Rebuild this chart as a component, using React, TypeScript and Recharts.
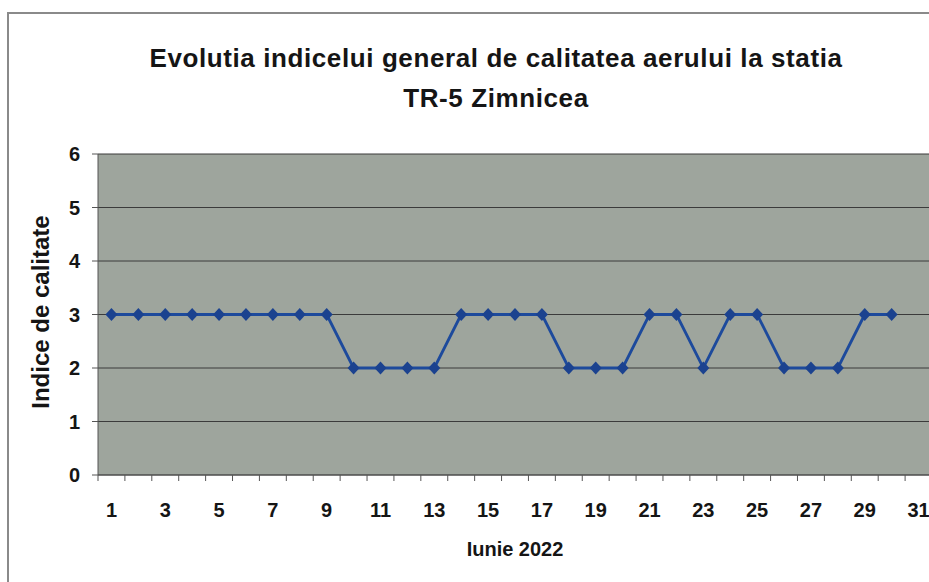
import React from 'react';
import { LineChart, Line, XAxis, YAxis, CartesianGrid } from 'recharts';

// zilele lunii (axa are 31 de pozitii, iunie are 30 de valori)
const days = Array.from({ length: 31 }, (_, i) => i + 1);
const labelDays = [1, 3, 5, 7, 9, 11, 13, 15, 17, 19, 21, 23, 25, 27, 29, 31];
const indexValues = [3, 3, 3, 3, 3, 3, 3, 3, 3, 2, 2, 2, 2, 3, 3, 3, 3, 2, 2, 2, 3, 3, 2, 3, 3, 2, 2, 2, 3, 3];
const yTicks = [0, 1, 2, 3, 4, 5, 6];

const data = indexValues.map((v, i) => ({ day: days[i], value: v }));
const boundaryTicks = [0.5, ...days.map((d) => d + 0.5)];

const FONT = '"Liberation Sans", Arial, sans-serif';

const Diamond = (props: any) => {
    const { cx, cy, index } = props;
    if (cx == null || cy == null) return <g key={`d-${index}`} />;
    return (
        <path
            key={`d-${index}`}
            d={`M${cx},${cy - 6.5} L${cx + 6},${cy} L${cx},${cy + 6.5} L${cx - 6},${cy} Z`}
            fill="#1b428f"
        />
    );
};

const App: React.FC = () => {
    return (
        <div style={{ position: 'absolute', left: 0, top: 0, width: 929, height: 582, overflow: 'hidden', background: '#fff', fontFamily: FONT }}>
            {/* chenarul graficului */}
            <div style={{ position: 'absolute', left: 7, top: 12, width: 1000, height: 700, borderLeft: '2px solid #8a8a8a', borderTop: '2px solid #8a8a8a' }} />

            <div style={{ position: 'absolute', left: 0, width: 992, top: 38, textAlign: 'center', fontWeight: 700, fontSize: 26, letterSpacing: 0.6, color: '#151515', lineHeight: '40px' }}>
                Evolutia indicelui general de calitatea aerului la statia
                <br />
                TR-5 Zimnicea
            </div>

            <div style={{ position: 'absolute', left: 41, top: 312, transform: 'translate(-50%, -50%) rotate(-90deg)', whiteSpace: 'nowrap', fontWeight: 700, fontSize: 24, color: '#151515' }}>
                Indice de calitate
            </div>

            <div style={{ position: 'absolute', left: 0, width: 1030, top: 538, textAlign: 'center', fontWeight: 700, fontSize: 20, color: '#151515' }}>
                Iunie 2022
            </div>

            <div style={{ position: 'absolute', left: 0, top: 0 }}>
                <LineChart width={940} height={582} data={data} margin={{ top: 154, right: 8, bottom: 0, left: 0 }}>
                    <CartesianGrid xAxisId="g" vertical={false} stroke="#3b3b3b" strokeWidth={1} fill="#9ea59d" fillOpacity={1} />
                    <XAxis
                        xAxisId="g"
                        dataKey="day"
                        type="number"
                        domain={[0.5, 31.5]}
                        ticks={boundaryTicks}
                        tick={{ fontSize: 1, fill: 'none' }}
                        tickFormatter={() => ''}
                        tickSize={6}
                        tickLine={{ stroke: '#555' }}
                        stroke="#555"
                        height={6}
                        interval={0}
                    />
                    <XAxis
                        xAxisId="l"
                        dataKey="day"
                        type="number"
                        domain={[0.5, 31.5]}
                        ticks={labelDays}
                        axisLine={false}
                        tickLine={false}
                        tickSize={0}
                        tickMargin={22}
                        interval={0}
                        height={101}
                        tick={{ fontSize: 20, fontWeight: 700, fill: '#151515', fontFamily: FONT }}
                    />
                    <YAxis
                        domain={[0, 6]}
                        ticks={yTicks}
                        width={98}
                        stroke="#555"
                        tickSize={6}
                        tickMargin={12}
                        tick={{ fontSize: 20, fontWeight: 700, fill: '#151515', fontFamily: FONT }}
                    />
                    <Line
                        xAxisId="g"
                        dataKey="value"
                        stroke="#1d4a9c"
                        strokeWidth={2.8}
                        dot={Diamond}
                        activeDot={false}
                        isAnimationActive={false}
                    />
                </LineChart>
            </div>
        </div>
    );
};

export default App;
